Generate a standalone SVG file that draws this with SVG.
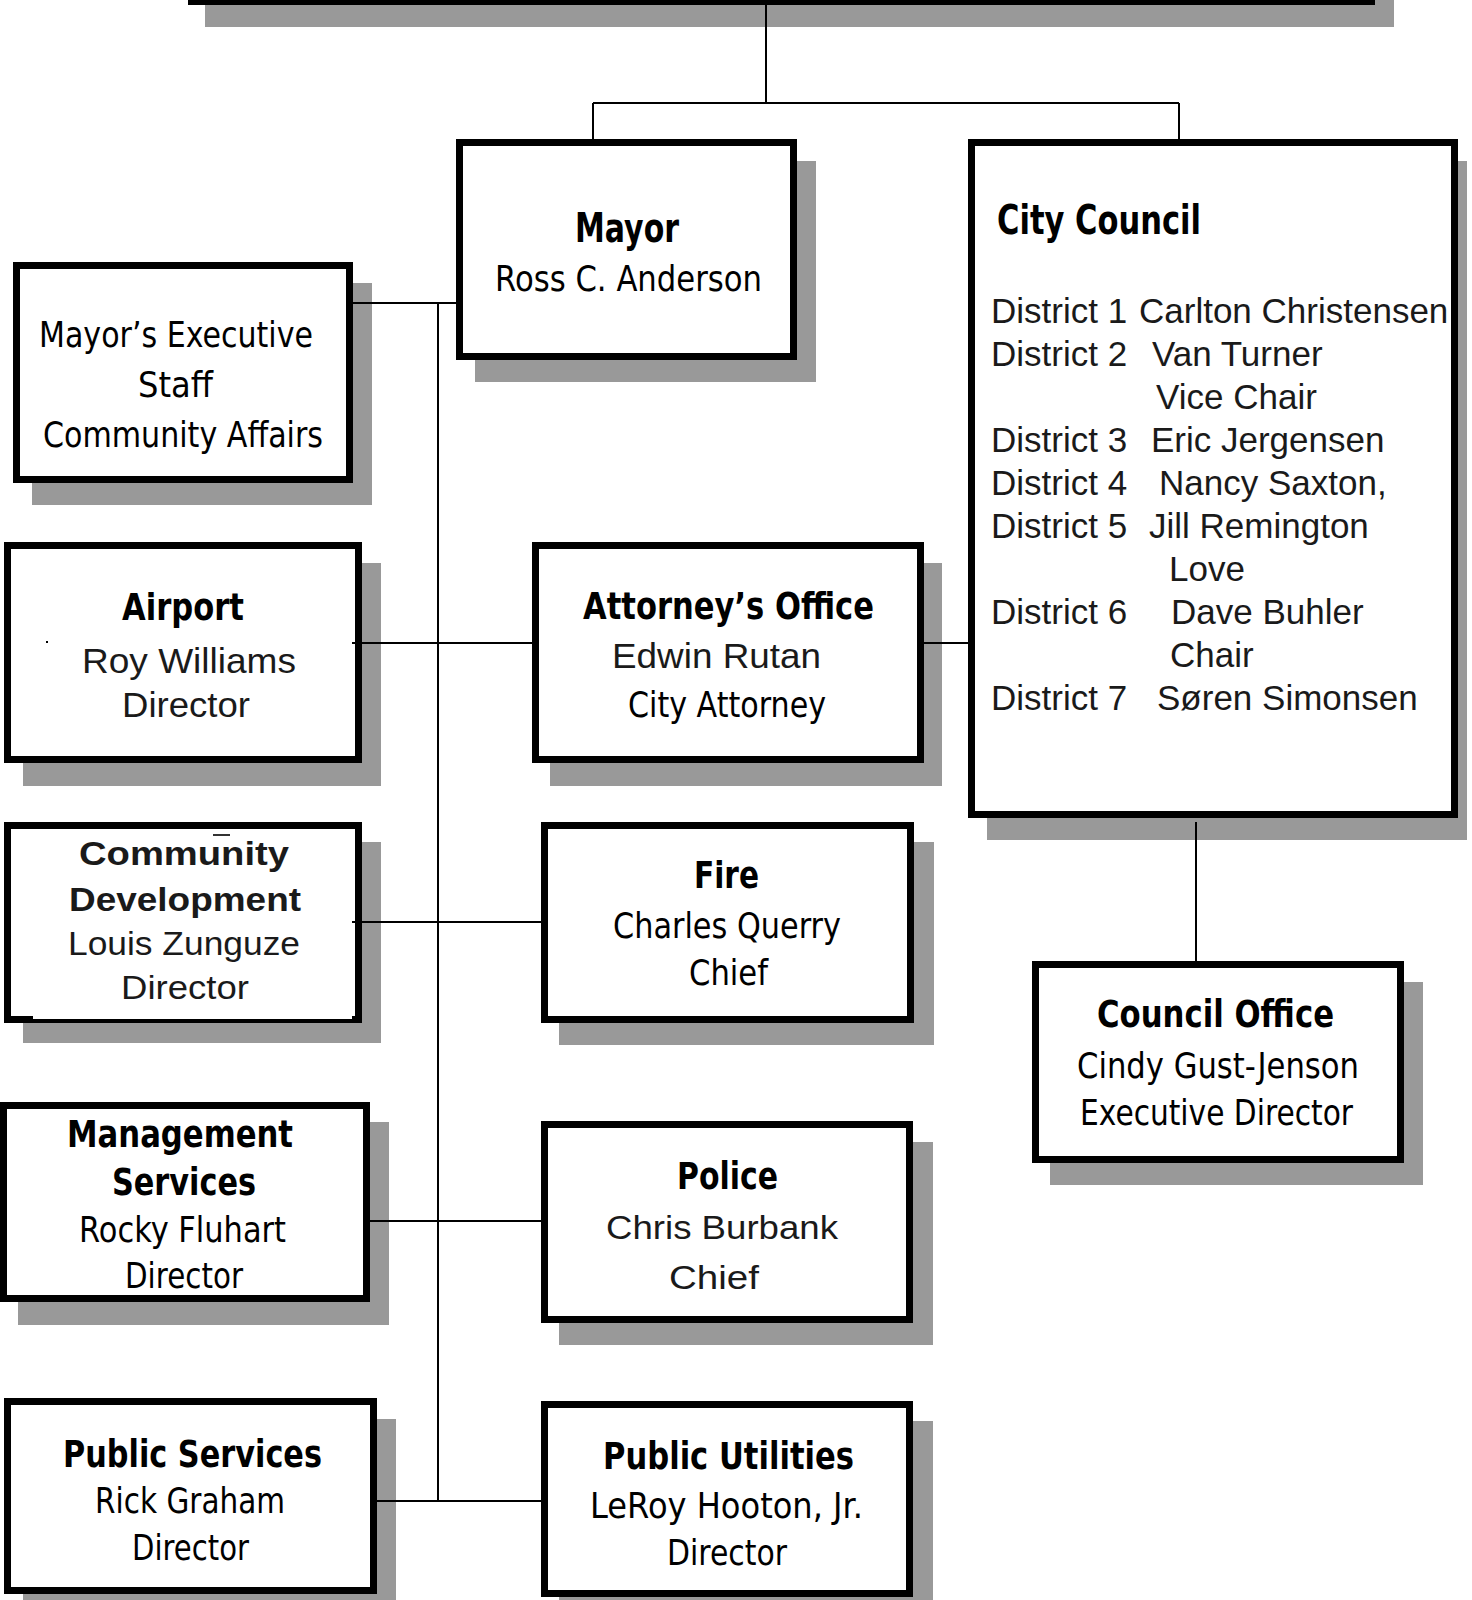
<svg xmlns="http://www.w3.org/2000/svg" width="1472" height="1600" viewBox="0 0 1472 1600">
<style>
.sh{fill:#999999}
.bx{fill:#ffffff;stroke:#000000;stroke-width:7}
.ln{stroke:#000000;stroke-width:2;fill:none}
.tb{font-family:"DejaVu Sans",Verdana,sans-serif;font-weight:bold;fill:#000}
.tr{font-family:"DejaVu Sans",Verdana,sans-serif;fill:#000}
.ar{font-family:"Liberation Sans",Arial,sans-serif;fill:#1a1a1a}
.arb{font-family:"Liberation Sans",Arial,sans-serif;font-weight:bold;fill:#1a1a1a}
</style>
<rect width="1472" height="1600" fill="#ffffff"/>
<g id="top-node">
<rect class="sh" x="205" y="-80" width="1189" height="107"/>
<rect class="bx" x="191.5" y="-100" width="1180" height="101.5"/>
</g>
<g id="mayor">
<rect class="sh" x="475" y="161" width="341" height="221"/>
<rect class="bx" x="459.5" y="142.5" width="334" height="214"/>
<text class="tb" x="575" y="242" font-size="40" textLength="104" lengthAdjust="spacingAndGlyphs">Mayor</text>
<text class="tr" x="495" y="291" font-size="36" textLength="267" lengthAdjust="spacingAndGlyphs">Ross C. Anderson</text>
</g>
<g id="city-council">
<rect class="sh" x="987" y="161" width="480" height="679"/>
<rect class="bx" x="971.5" y="142.5" width="483" height="672"/>
<text class="tb" x="997" y="234" font-size="40" textLength="204" lengthAdjust="spacingAndGlyphs">City Council</text>
<g class="ar" font-size="35">
<text x="991" y="323">District 1</text><text x="1139" y="323">Carlton Christensen</text>
<text x="991" y="366">District 2</text><text x="1152" y="366">Van Turner</text>
<text x="1156" y="409">Vice Chair</text>
<text x="991" y="452">District 3</text><text x="1151" y="452">Eric Jergensen</text>
<text x="991" y="495">District 4</text><text x="1159" y="495">Nancy Saxton,</text>
<text x="991" y="538">District 5</text><text x="1149" y="538">Jill Remington</text>
<text x="1169" y="581">Love</text>
<text x="991" y="624">District 6</text><text x="1171" y="624">Dave Buhler</text>
<text x="1170" y="667">Chair</text>
<text x="991" y="710">District 7</text><text x="1157" y="710">Søren Simonsen</text>
</g>
</g>
<g id="exec-staff">
<rect class="sh" x="32" y="283" width="340" height="222"/>
<rect class="bx" x="16.5" y="265.5" width="333" height="214"/>
<text class="tr" x="39" y="347" font-size="35" textLength="274" lengthAdjust="spacingAndGlyphs">Mayor’s Executive</text>
<text class="tr" x="138" y="397" font-size="35" textLength="75" lengthAdjust="spacingAndGlyphs">Staff</text>
<text class="tr" x="43" y="447" font-size="35" textLength="280" lengthAdjust="spacingAndGlyphs">Community Affairs</text>
</g>
<g id="airport">
<rect class="sh" x="23" y="563" width="358" height="223"/>
<rect class="bx" x="7.5" y="545.5" width="351" height="214"/>
<rect x="46" y="641" width="2" height="2" fill="#000"/>
<text class="tb" x="122" y="620" font-size="38" textLength="122" lengthAdjust="spacingAndGlyphs">Airport</text>
<text class="ar" x="82" y="673" font-size="35" textLength="214" lengthAdjust="spacingAndGlyphs">Roy Williams</text>
<text class="ar" x="122" y="717" font-size="35" textLength="128" lengthAdjust="spacingAndGlyphs">Director</text>
</g>
<g id="community-development">
<rect class="sh" x="23" y="842" width="358" height="201"/>
<rect class="bx" x="7.5" y="825.5" width="351" height="194"/>
<rect x="33" y="1013" width="319" height="6" fill="#fff"/>
<rect x="213" y="834" width="17" height="2" fill="#333"/>
<text class="arb" x="79" y="865" font-size="33" textLength="210" lengthAdjust="spacingAndGlyphs">Community</text>
<text class="arb" x="69" y="911" font-size="33" textLength="232" lengthAdjust="spacingAndGlyphs">Development</text>
<text class="ar" x="68" y="955" font-size="34" textLength="232" lengthAdjust="spacingAndGlyphs">Louis Zunguze</text>
<text class="ar" x="121" y="999" font-size="34" textLength="128" lengthAdjust="spacingAndGlyphs">Director</text>
</g>
<g id="management-services">
<rect class="sh" x="18" y="1122" width="371" height="203"/>
<rect class="bx" x="3.5" y="1105.5" width="363" height="193"/>
<text class="tb" x="67" y="1147" font-size="37" textLength="226" lengthAdjust="spacingAndGlyphs">Management</text>
<text class="tb" x="112" y="1195" font-size="37" textLength="144" lengthAdjust="spacingAndGlyphs">Services</text>
<text class="tr" x="79" y="1242" font-size="36" textLength="207" lengthAdjust="spacingAndGlyphs">Rocky Fluhart</text>
<text class="tr" x="125" y="1288" font-size="36" textLength="118" lengthAdjust="spacingAndGlyphs">Director</text>
</g>
<g id="public-services">
<rect class="sh" x="23" y="1419" width="373" height="200"/>
<rect class="bx" x="7.5" y="1401.5" width="366" height="189"/>
<text class="tb" x="63" y="1467" font-size="37" textLength="259" lengthAdjust="spacingAndGlyphs">Public Services</text>
<text class="tr" x="95" y="1513" font-size="36" textLength="190" lengthAdjust="spacingAndGlyphs">Rick Graham</text>
<text class="tr" x="132" y="1560" font-size="36" textLength="117" lengthAdjust="spacingAndGlyphs">Director</text>
</g>
<g id="attorney">
<rect class="sh" x="550" y="563" width="392" height="223"/>
<rect class="bx" x="535.5" y="545.5" width="385" height="214"/>
<text class="tb" x="583" y="619" font-size="38" textLength="291" lengthAdjust="spacingAndGlyphs">Attorney’s Office</text>
<text class="ar" x="612" y="668" font-size="35" textLength="209" lengthAdjust="spacingAndGlyphs">Edwin Rutan</text>
<text class="tr" x="628" y="717" font-size="36" textLength="198" lengthAdjust="spacingAndGlyphs">City Attorney</text>
</g>
<g id="fire">
<rect class="sh" x="559" y="842" width="375" height="203"/>
<rect class="bx" x="544.5" y="825.5" width="366" height="194"/>
<text class="tb" x="694" y="888" font-size="38" textLength="65" lengthAdjust="spacingAndGlyphs">Fire</text>
<text class="tr" x="613" y="938" font-size="36" textLength="228" lengthAdjust="spacingAndGlyphs">Charles Querry</text>
<text class="tr" x="689" y="985" font-size="36" textLength="79" lengthAdjust="spacingAndGlyphs">Chief</text>
</g>
<g id="police">
<rect class="sh" x="559" y="1142" width="374" height="203"/>
<rect class="bx" x="544.5" y="1124.5" width="365" height="195"/>
<text class="tb" x="677" y="1189" font-size="37" textLength="101" lengthAdjust="spacingAndGlyphs">Police</text>
<text class="ar" x="606" y="1239" font-size="34" textLength="232" lengthAdjust="spacingAndGlyphs">Chris Burbank</text>
<text class="ar" x="669" y="1289" font-size="34" textLength="90" lengthAdjust="spacingAndGlyphs">Chief</text>
</g>
<g id="public-utilities">
<rect class="sh" x="559" y="1421" width="374" height="200"/>
<rect class="bx" x="544.5" y="1404.5" width="365" height="189"/>
<text class="tb" x="603" y="1469" font-size="37" textLength="251" lengthAdjust="spacingAndGlyphs">Public Utilities</text>
<text class="tr" x="590" y="1518" font-size="36" textLength="273" lengthAdjust="spacingAndGlyphs">LeRoy Hooton, Jr.</text>
<text class="tr" x="667" y="1565" font-size="36" textLength="120" lengthAdjust="spacingAndGlyphs">Director</text>
</g>
<g id="council-office">
<rect class="sh" x="1050" y="982" width="373" height="203"/>
<rect class="bx" x="1035.5" y="964.5" width="365" height="195"/>
<text class="tb" x="1097" y="1027" font-size="37" textLength="237" lengthAdjust="spacingAndGlyphs">Council Office</text>
<text class="tr" x="1077" y="1078" font-size="36" textLength="282" lengthAdjust="spacingAndGlyphs">Cindy Gust-Jenson</text>
<text class="tr" x="1080" y="1125" font-size="36" textLength="273" lengthAdjust="spacingAndGlyphs">Executive Director</text>
</g>
<g id="connectors">
<path class="ln" d="M766 5V103M593 103H1179M593 103V139M1179 103V139"/>
<path class="ln" d="M353 303H456M438 303V1501"/>
<path class="ln" d="M352 643H532M924 643H968"/>
<path class="ln" d="M352 922H541"/>
<path class="ln" d="M370 1221H541"/>
<path class="ln" d="M370 1501H541"/>
<path class="ln" d="M1196 822V961"/>
</g>
</svg>
